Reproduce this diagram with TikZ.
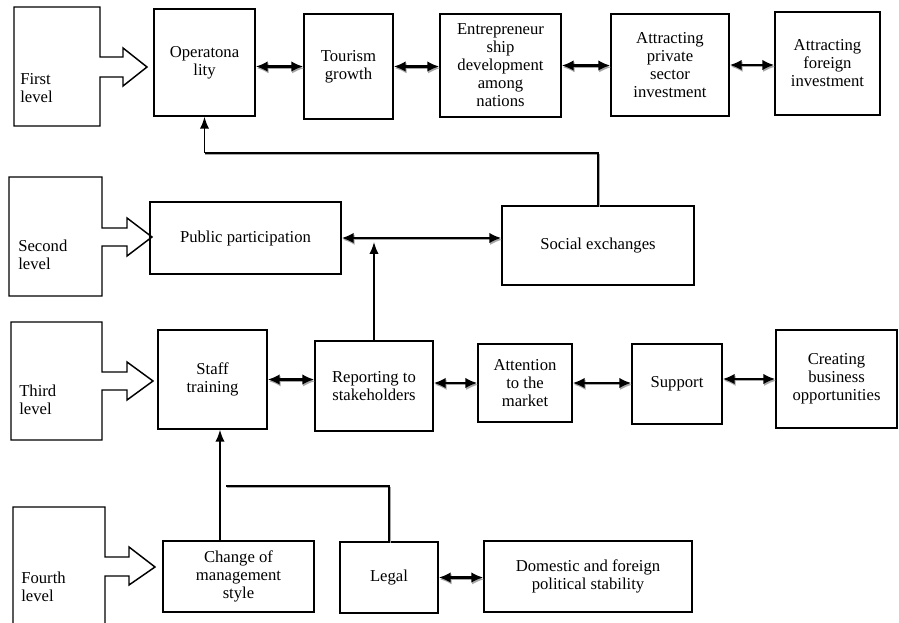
\documentclass[tikz,border=0pt]{standalone}
\usepackage{fontspec}
\setmainfont{Liberation Serif}
\usetikzlibrary{arrows.meta}
\tikzset{
	blk/.style={draw, line width=1.1pt, align=center, inner sep=1pt, font=\fontsize{12.5}{13.5}\selectfont},
	lvl/.style={align=left, anchor=west, inner sep=0pt, font=\fontsize{12.5}{13.5}\selectfont},
	lvlshape/.style={line width=1.1pt},
	shadowline/.style={preaction={draw=black!35, transform canvas={shift={(0.7pt,-1.3pt)}}}},
	link/.style={shadowline, line width=1.8pt, {Latex[length=9pt,width=8pt]}-{Latex[length=9pt,width=8pt]}},
	feed/.style={shadowline, line width=1.2pt},
	up/.style={line width=1.2pt, -{Latex[length=9pt,width=7pt]}}
}
\def\bx(#1)(#2,#3,#4,#5)#6{\node[blk, minimum width={(#4-#2)*0.75pt}, minimum height={(#5-#3)*0.75pt}] (#1) at ({(#2+#4)/2},{(#3+#5)/2}) {#6};}

\begin{document}
\begin{tikzpicture}[x=0.75pt, y=-0.75pt]
			%%%%% START %%%%%
			\useasboundingbox (0,0) rectangle (899,623);
			\clip (0,0) rectangle (899,623);
			
			% level arrows
			\draw[lvlshape] (14,7) -- (100,7) -- (100,57) -- (123,57) -- (123,48) -- (147,67) -- (123,86) -- (123,77) -- (100,77) -- (100,126) -- (14,126) -- cycle;
			\draw[lvlshape] (9,177) -- (102,177) -- (102,228) -- (127,228) -- (127,218) -- (152,237) -- (127,256) -- (127,246) -- (102,246) -- (102,296) -- (9,296) -- cycle;
			\draw[lvlshape] (11,322) -- (102,322) -- (102,372) -- (127,372) -- (127,362) -- (153,381) -- (127,400) -- (127,390) -- (102,390) -- (102,440) -- (11,440) -- cycle;
			\draw[lvlshape] (13,507) -- (105,507) -- (105,557) -- (129,557) -- (129,547) -- (155,567) -- (129,585) -- (129,576) -- (105,576) -- (105,640) -- (13,640) -- cycle;
			
			\node[lvl] (lv1) at (20,88) {First\\level};
			\node[lvl] (lv2) at (18,255) {Second\\level};
			\node[lvl] (lv3) at (19,400) {Third\\level};
			\node[lvl] (lv4) at (21,587) {Fourth\\level};
			
			% first level
			\bx(opr)(154,9,255,116){Operatona\\lity}
			\bx(tour)(304,14,393,119){Tourism\\growth}
			\bx(ent)(440,14,561,117){Entrepreneur\\ship\\development\\among\\nations}
			\bx(priv)(611,14,729,116){Attracting\\private\\sector\\investment}
			\bx(forg)(775,12,880,115){Attracting\\foreign\\investment}
			
			\draw[link] (opr.east |- tour.west) -- (tour.west);
			\draw[link] (tour.east) -- (tour.east -| ent.west);
			\draw[link] (ent.east) -- (ent.east -| priv.west);
			\draw[link] (priv.east) -- (priv.east -| forg.west);
			
			% second level
			\bx(pp)(150,202,341,274){Public participation}
			\bx(soc)(502,206,694,285){Social exchanges}
			
			\draw[link] (pp.east) -- (pp.east -| soc.west);
			
			\coordinate (fbline) at (0,153);
			\draw[feed] (soc.north) -- (soc.north |- fbline) -- (opr.south |- fbline);
			\draw[up] (opr.south |- fbline) -- (opr.south);
			
			% third level
			\bx(stf)(158,330,267,429){Staff\\training}
			\bx(rep)(315,341,433,431){Reporting to\\stakeholders}
			\bx(att)(478,344,572,422){Attention\\to the\\market}
			\bx(sup)(632,344,722,424){Support}
			\bx(cre)(776,330,897,428){Creating\\business\\opportunities}
			
			\draw[link] (stf.east) -- (stf.east -| rep.west);
			\draw[link] (att.west -| rep.east) -- (att.west);
			\draw[link] (att.east) -- (att.east -| sup.west);
			\draw[link] (cre.west -| sup.east) -- (cre.west);
			
			\draw[up, shorten >=3pt] (rep.north) -- (rep.north |- pp.east);
			
			% fourth level
			\bx(chg)(163,541,314,612){Change of\\management\\style}
			\bx(leg)(340,542,438,613){Legal}
			\bx(dom)(484,541,692,612){Domestic and foreign\\political stability}
			
			\draw[link] (leg.east) -- (leg.east -| dom.west);
			
			\coordinate (mgmtx) at (220,0);
			\coordinate (legturn) at (226,486);
			\draw[up] (chg.north -| mgmtx) -- (stf.south -| mgmtx);
			\draw[feed] (leg.north) |- (legturn);
			
			%%%%% END %%%%%
\end{tikzpicture}
\end{document}
